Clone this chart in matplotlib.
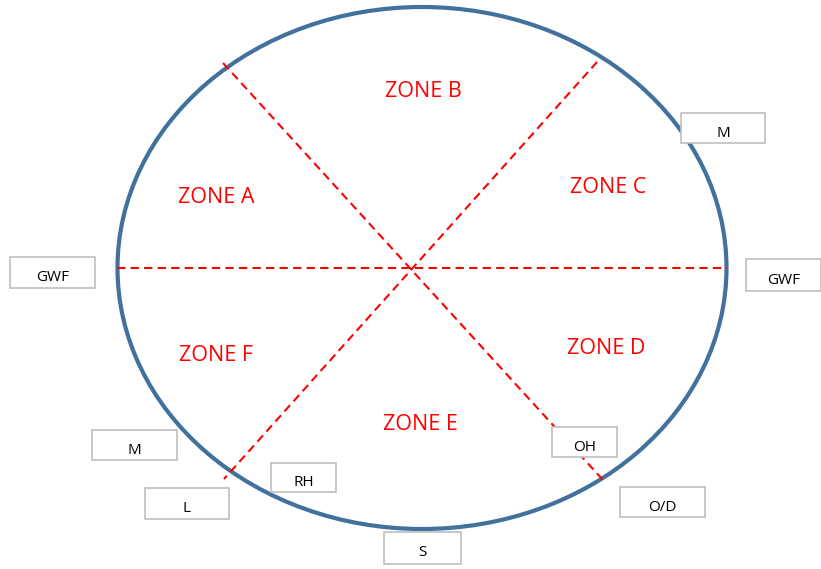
import matplotlib
matplotlib.use("Agg")
import matplotlib.pyplot as plt
from matplotlib.patches import Ellipse, Rectangle

# zone labels and where they sit (pixel coords of the picture)
zones = ["ZONE A", "ZONE B", "ZONE C", "ZONE D", "ZONE E", "ZONE F"]
zone_x = [216, 423, 608, 606, 420, 216]
zone_y = [197, 91, 187, 348, 424, 355]

# outside tag boxes: label, left, top, right, bottom
tags = ["M", "GWF", "GWF", "M", "L", "RH", "OH", "O/D", "S"]
tag_x0 = [681, 10, 746, 92, 145, 271, 552, 620, 384]
tag_y0 = [113, 257, 259, 430, 488, 463, 427, 487, 532]
tag_x1 = [765, 95, 821, 177, 229, 336, 617, 705, 461]
tag_y1 = [143, 288, 291, 460, 519, 492, 457, 517, 564]

# dashed dividers: (x0, y0) -> (x1, y1)
div_x0 = [117, 223, 597]
div_y0 = [268, 63, 62]
div_x1 = [727, 603, 224]
div_y1 = [268, 480, 479]

fig = plt.figure(figsize=(8.21, 5.69), dpi=100)
ax = fig.add_axes([0, 0, 1, 1])
ax.set_xlim(0, 821)
ax.set_ylim(569, 0)
ax.axis("off")

ax.add_patch(Ellipse((422, 268), 609, 522, fill=False, edgecolor="#41719c",
                     linewidth=3, zorder=1))

for x0, y0, x1, y1 in zip(div_x0, div_y0, div_x1, div_y1):
    ax.plot([x0, x1], [y0, y1], color="#ff0000", linewidth=1.5,
            dashes=(4, 2.5), zorder=2)

for name, x, y in zip(zones, zone_x, zone_y):
    ax.text(x, y, name, color="#ff0000", fontsize=15.5, family="Open Sans",
            ha="center", va="center", zorder=5)

for name, x0, y0, x1, y1 in zip(tags, tag_x0, tag_y0, tag_x1, tag_y1):
    ax.add_patch(Rectangle((x0, y0), x1 - x0, y1 - y0, facecolor="white",
                           edgecolor="#bfbfbf", linewidth=1.2, zorder=3))
    ax.text((x0 + x1) / 2, (y0 + y1) / 2 + 5, name, color="black",
            fontsize=11, family="Open Sans", ha="center", va="center",
            zorder=4)

fig.savefig("out.png", dpi=100)
